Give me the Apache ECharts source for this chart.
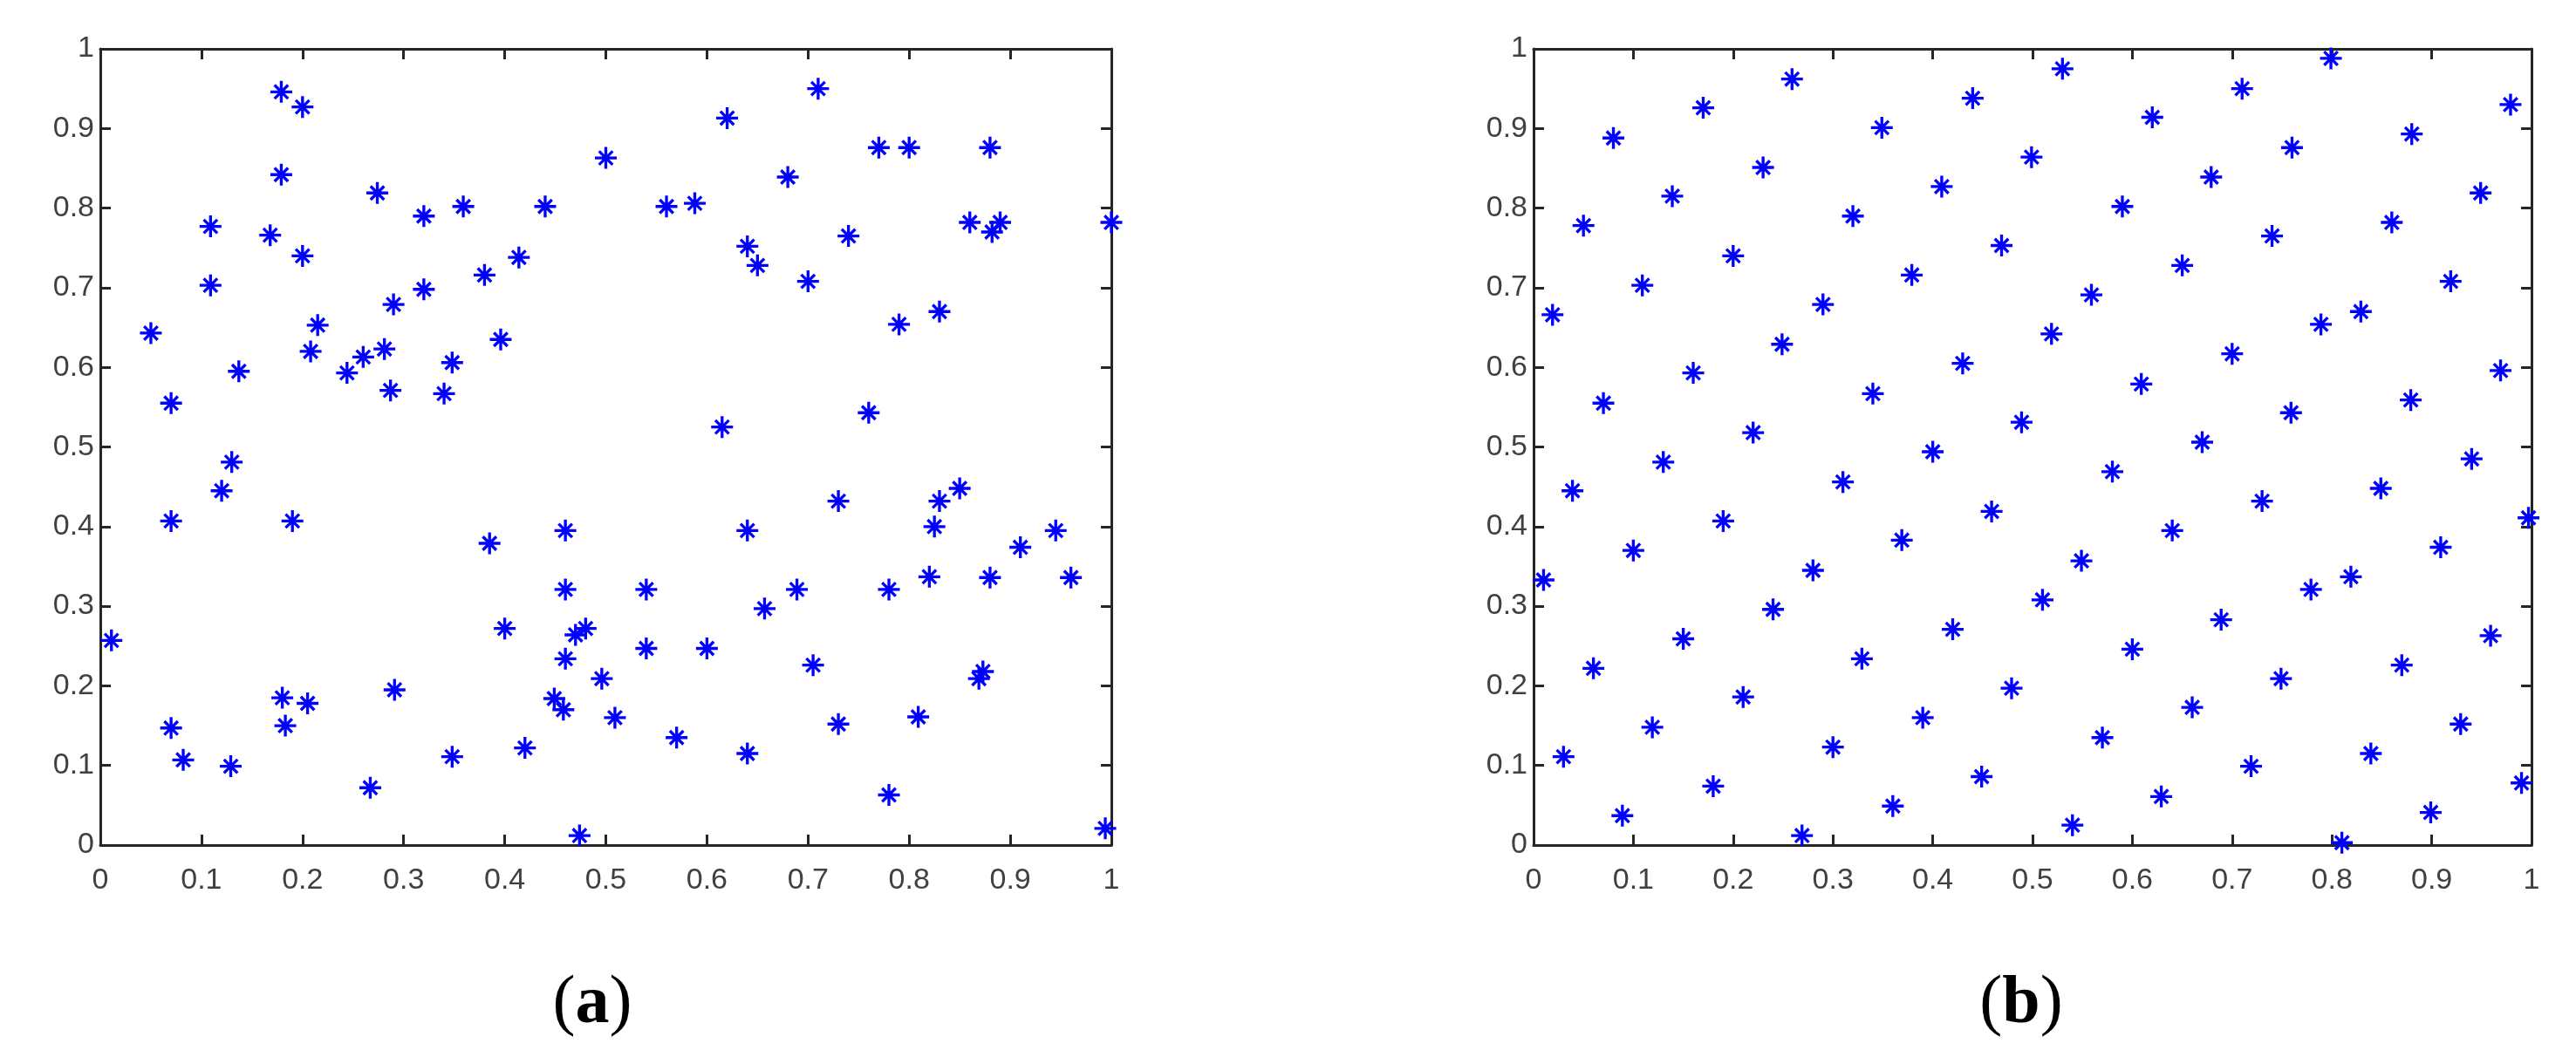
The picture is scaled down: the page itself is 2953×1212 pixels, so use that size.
<!DOCTYPE html>
<html>
<head>
<meta charset="utf-8">
<script src="https://cdn.jsdelivr.net/npm/echarts@6/dist/echarts.min.js"></script>
<style>
html,body{margin:0;padding:0;background:#fff;}
#chart{width:2953px;height:1212px;}
</style>
</head>
<body>
<div id="chart"></div>
<script>
// (a) random points
const randomPoints = [
[0.179,0.946],[0.200,0.927],[0.179,0.842],[0.274,0.819],[0.320,0.790],[0.359,0.802],[0.440,0.802],[0.500,0.863],
[0.109,0.777],[0.168,0.766],[0.200,0.740],[0.109,0.703],[0.414,0.738],[0.380,0.716],[0.320,0.698],[0.290,0.679],
[0.050,0.643],[0.215,0.653],[0.208,0.620],[0.260,0.613],[0.281,0.623],[0.244,0.593],[0.137,0.595],[0.396,0.635],
[0.348,0.606],[0.287,0.571],[0.340,0.567],[0.070,0.555],
[0.710,0.950],[0.620,0.913],[0.770,0.876],[0.800,0.876],[0.880,0.876],[0.680,0.839],[0.560,0.802],[0.588,0.806],
[0.860,0.782],[0.890,0.782],[0.882,0.770],[1.000,0.782],[0.740,0.765],[0.640,0.752],[0.650,0.728],[0.700,0.708],
[0.830,0.670],[0.790,0.654],[0.760,0.543],[0.615,0.525],
[0.130,0.481],[0.120,0.445],[0.070,0.407],[0.190,0.407],[0.385,0.379],[0.460,0.395],[0.460,0.321],[0.011,0.257],
[0.400,0.272],[0.470,0.264],[0.480,0.272],[0.460,0.234],[0.496,0.209],[0.509,0.160],[0.291,0.195],[0.180,0.185],
[0.205,0.178],[0.449,0.184],[0.458,0.170],[0.070,0.147],[0.183,0.150],[0.082,0.107],[0.129,0.099],[0.348,0.111],
[0.420,0.122],[0.267,0.072],[0.474,0.012],
[0.850,0.448],[0.730,0.432],[0.830,0.432],[0.825,0.400],[0.945,0.395],[0.640,0.395],[0.910,0.374],[0.540,0.321],
[0.689,0.321],[0.780,0.321],[0.820,0.337],[0.880,0.336],[0.960,0.336],[0.657,0.297],[0.540,0.247],[0.600,0.247],
[0.705,0.226],[0.873,0.218],[0.869,0.209],[0.570,0.135],[0.730,0.152],[0.809,0.161],[0.640,0.115],[0.780,0.063],
[0.994,0.021]
];
// (b) uniformly distributed points
const uniformPoints = [
[0.259,0.962],[0.170,0.926],[0.080,0.888],[0.440,0.938],[0.349,0.901],[0.230,0.851],[0.499,0.864],[0.139,0.815],
[0.409,0.827],[0.050,0.778],[0.320,0.790],[0.469,0.753],[0.200,0.740],[0.379,0.716],[0.109,0.703],[0.290,0.679],
[0.019,0.666],[0.249,0.629],[0.519,0.642],[0.160,0.593],[0.430,0.605],[0.340,0.567],[0.070,0.555],[0.220,0.518],
[0.489,0.531],
[0.530,0.975],[0.799,0.988],[0.710,0.950],[0.620,0.914],[0.979,0.930],[0.760,0.876],[0.880,0.893],[0.679,0.839],
[0.590,0.802],[0.949,0.819],[0.860,0.782],[0.740,0.765],[0.650,0.728],[0.559,0.691],[0.919,0.708],[0.829,0.670],
[0.789,0.654],[0.700,0.617],[0.969,0.596],[0.609,0.579],[0.879,0.559],[0.759,0.543],[0.670,0.506],
[0.130,0.481],[0.400,0.494],[0.039,0.445],[0.310,0.456],[0.190,0.407],[0.459,0.419],[0.100,0.370],[0.369,0.383],
[0.010,0.333],[0.280,0.345],[0.510,0.308],[0.240,0.296],[0.150,0.259],[0.420,0.271],[0.060,0.222],[0.329,0.234],
[0.210,0.186],[0.479,0.197],[0.119,0.148],[0.390,0.160],[0.030,0.111],[0.300,0.123],[0.180,0.074],[0.449,0.086],
[0.089,0.037],[0.360,0.049],[0.269,0.012],
[0.940,0.485],[0.580,0.469],[0.849,0.448],[0.730,0.432],[0.997,0.411],[0.640,0.395],[0.909,0.374],[0.549,0.357],
[0.819,0.337],[0.779,0.321],[0.689,0.283],[0.959,0.263],[0.600,0.246],[0.870,0.226],[0.749,0.209],[0.660,0.173],
[0.929,0.152],[0.570,0.135],[0.839,0.115],[0.719,0.099],[0.990,0.078],[0.629,0.061],[0.899,0.041],[0.540,0.025],
[0.810,0.003]
];
const xTickLabels = ['0','0.1','0.2','0.3','0.4','0.5','0.6','0.7','0.8','0.9','1'];
const yTickLabels = ['0','0.1','0.2','0.3','0.4','0.5','0.6','0.7','0.8','0.9','1'];
const panelLabels = ['a','b'];

const star = 'path://M10.4 0H13.6V24H10.4Z M0 10.4H24V13.6H0Z M5.67 3.41L20.59 18.33L18.33 20.59L3.41 5.67Z M5.67 20.59L3.41 18.33L18.33 3.41L20.59 5.67Z';
const axisColor = '#262626';
const labelColor = '#404040';
const fontFam = '"Liberation Sans", Arial, sans-serif';

function tickFmt(labels){ return v => labels[Math.round(v*10)]; }

function xAxes(gi){
  const base = {gridIndex: gi, type:'value', min:0, max:1, interval:0.1,
    axisLine:{show:true,onZero:false,lineStyle:{color:axisColor,width:3}},
    axisTick:{show:true,inside:true,length:12,lineStyle:{color:axisColor,width:3}},
    splitLine:{show:false}};
  return [
    Object.assign({}, base, {position:'bottom',
      axisLabel:{show:true,margin:24,color:labelColor,fontSize:34,fontFamily:fontFam,formatter:tickFmt(xTickLabels)}}),
    Object.assign({}, base, {position:'top', axisLabel:{show:false}})
  ];
}
function yAxes(gi){
  const base = {gridIndex: gi, type:'value', min:0, max:1, interval:0.1,
    axisLine:{show:true,onZero:false,lineStyle:{color:axisColor,width:3}},
    axisTick:{show:true,inside:true,length:12,lineStyle:{color:axisColor,width:3}},
    splitLine:{show:false}};
  return [
    Object.assign({}, base, {position:'left',
      axisLabel:{show:true,margin:7,color:labelColor,fontSize:34,fontFamily:fontFam,padding:[9,0,0,0],formatter:tickFmt(yTickLabels)}}),
    Object.assign({}, base, {position:'right', axisLabel:{show:false}})
  ];
}

const chart = echarts.init(document.getElementById('chart'), null, {renderer:'canvas'});
const panelText = s => '{p|(}{b|' + s + '}{p|)}';
const richStyle = {
  p:{fontFamily:'"Liberation Serif", "Times New Roman", serif',fontSize:78,fontWeight:'normal',fill:'#000',color:'#000'},
  b:{fontFamily:'"Liberation Serif", "Times New Roman", serif',fontSize:78,fontWeight:'bold',fill:'#000',color:'#000'}
};
chart.setOption({
  backgroundColor:'#ffffff',
  animation:false,
  grid:[
    {left:115, top:56, width:1159, height:913},
    {left:1758, top:56, width:1144, height:913}
  ],
  xAxis: xAxes(0).concat(xAxes(1)),
  yAxis: yAxes(0).concat(yAxes(1)),
  series:[
    {type:'scatter', xAxisIndex:0, yAxisIndex:0, data:randomPoints, symbol:star, symbolSize:25,
      clip:false, itemStyle:{color:'#0000ff',opacity:1}},
    {type:'scatter', xAxisIndex:2, yAxisIndex:2, data:uniformPoints, symbol:star, symbolSize:25,
      clip:false, itemStyle:{color:'#0000ff',opacity:1}}
  ],
  graphic:[
    {type:'text', x:679, y:1152, style:{text:panelText(panelLabels[0]), rich:richStyle, align:'center', verticalAlign:'middle'}},
    {type:'text', x:2317, y:1152, style:{text:panelText(panelLabels[1]), rich:richStyle, align:'center', verticalAlign:'middle'}}
  ]
});
</script>
</body>
</html>
